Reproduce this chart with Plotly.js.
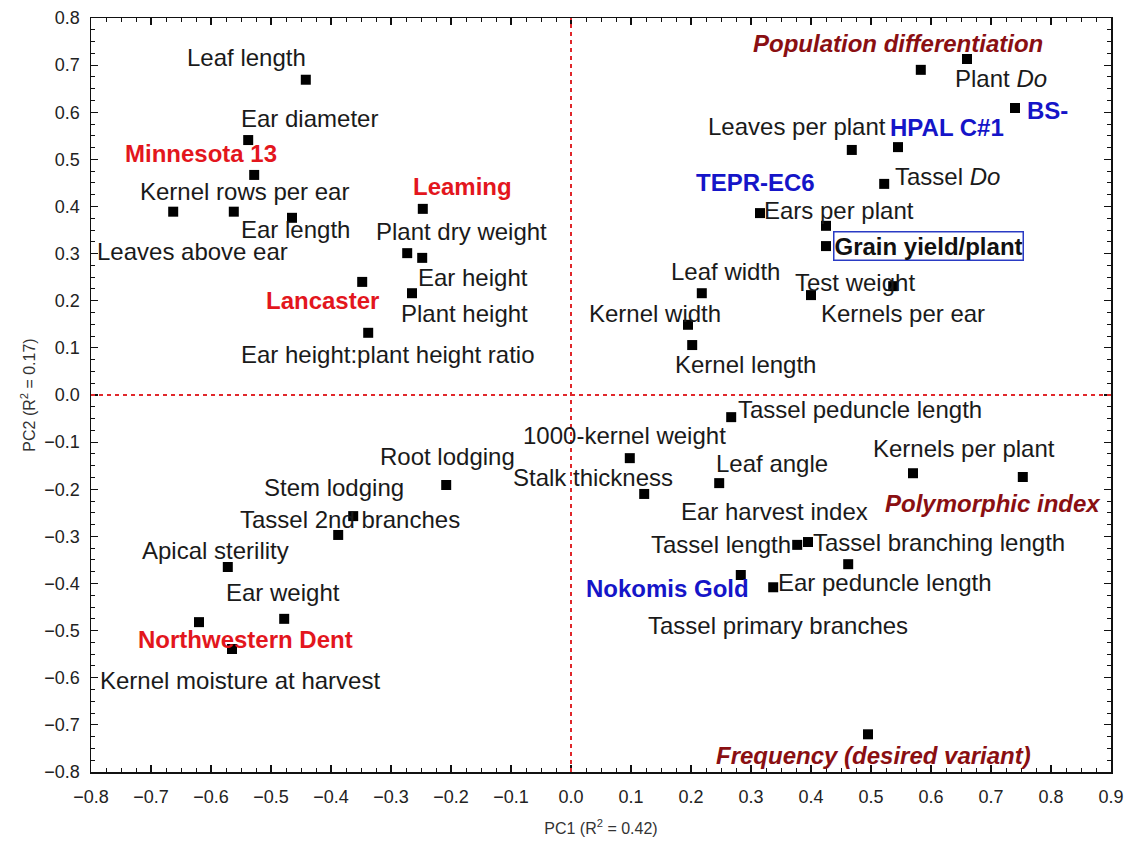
<!DOCTYPE html>
<html>
<head>
<meta charset="utf-8">
<script src="https://cdn.plot.ly/plotly-3.0.1.min.js"></script>
<style>html,body{margin:0;padding:0;background:#fff;}#chart{width:1133px;height:842px;}</style>
</head>
<body>
<div id="chart"></div>
<script>
// ---- data ----
const labels = [
  "Leaf length","Ear diameter","Minnesota 13","Kernel rows per ear","Leaves above ear","Ear length",
  "Leaming","Plant dry weight","Ear height","Lancaster","Plant height","Ear height:plant height ratio",
  "Population differentiation","Plant <i>Do</i>","BS-","Leaves per plant","HPAL C#1","Tassel <i>Do</i>",
  "Ears per plant","TEPR-EC6","Grain yield/plant","Test weight","Kernels per ear","Leaf width",
  "Kernel width","Kernel length",
  "Root lodging","Stem lodging","Tassel 2nd branches","Apical sterility","Ear weight","Northwestern Dent",
  "Kernel moisture at harvest",
  "Tassel peduncle length","1000-kernel weight","Stalk thickness","Leaf angle","Kernels per plant",
  "Polymorphic index","Tassel length","Tassel branching length","Nokomis Gold","Ear peduncle length",
  "Tassel primary branches","Frequency (desired variant)"
];
const pc1 = [
  -0.442,-0.538,-0.528,-0.562,-0.663,-0.465,
  -0.247,-0.273,-0.248,-0.348,-0.265,-0.338,
  0.660,0.583,0.740,0.468,0.545,0.522,
  0.315,0.425,0.425,0.537,0.400,0.218,
  0.195,0.202,
  -0.208,-0.363,-0.388,-0.572,-0.478,-0.620,
  -0.565,
  0.267,0.098,0.122,0.247,0.570,
  0.753,0.377,0.395,0.283,0.337,
  0.462,0.495
];
const pc2 = [
  0.669,0.541,0.467,0.389,0.389,0.376,
  0.395,0.301,0.291,0.240,0.216,0.132,
  0.713,0.690,0.609,0.520,0.526,0.448,
  0.386,0.359,0.316,0.231,0.212,0.216,
  0.149,0.106,
  -0.191,-0.257,-0.297,-0.365,-0.475,-0.482,
  -0.539,
  -0.047,-0.134,-0.210,-0.187,-0.166,
  -0.174,-0.318,-0.312,-0.382,-0.408,
  -0.359,-0.720
];
// label kind: t = trait, r = red population, b = blue population, s = statistic, g = boxed
const kinds = [
  "t","t","r","t","t","t",
  "r","t","t","r","t","t",
  "s","t","b","t","b","t",
  "t","b","g","t","t","t",
  "t","t",
  "t","t","t","t","t","r",
  "t",
  "t","t","t","t","t",
  "s","t","t","b","t",
  "t","s"
];
// extra label without its own marker, anchored to an existing point
const extraLabels = ["Ear harvest index"];
const extraAnchors = ["Leaf angle"];

// ---- label placement (pixel offsets from the point, y downwards) ----
const offsets = [
  [-59,-22],[61,-22],[-53,-21],[11,-20],[19,40],[3,12],
  [40,-22],[54,-22],[51,20],[-40,19],[52,20],[20,22],
  [-69,-16],[80,9],[32,2],[-55,-23],[49,-20],[63,-7],
  [79,-3],[-71,-43],[102,0],[-38,-4],[92,18],[24,-22],
  [-33,-11],[53,19],
  [1,-29],[-19,-29],[12,-15],[-12,-17],[-1,-26],[46,17],
  [8,31],
  [129,-8],[-5,-23],[-51,-16],[53,-20],[51,-25],
  [-30,26],[-76,0],[131,0],[-73,13],[112,-5],
  [-70,61],[5,21]
];
const extraOffsets = [[55,28]];

const FONT = "Arial, 'Liberation Sans', sans-serif";
const styles = {
  t: {color: "#1a1a1a", bold: false, italic: false},
  r: {color: "#e3161d", bold: true, italic: false},
  b: {color: "#1515c8", bold: true, italic: false},
  s: {color: "#8a0f12", bold: true, italic: true},
  g: {color: "#111111", bold: true, italic: false}
};

function makeAnn(text, x, y, kind, off) {
  const st = styles[kind];
  let t = text;
  if (st.bold) t = "<b>" + t + "</b>";
  if (st.italic) t = "<i>" + t + "</i>";
  const a = {
    x: x, y: y, xref: "x", yref: "y", text: t, showarrow: false,
    xanchor: "center", yanchor: "middle",
    xshift: off[0], yshift: -off[1],
    font: {family: FONT, size: 24, color: st.color}
  };
  if (kind === "g") {
    a.bordercolor = "#2a3bc4"; a.borderwidth = 1.5; a.borderpad = 0; a.bgcolor = "#ffffff";
  }
  return a;
}

const annotations = labels.map((l, i) => makeAnn(l, pc1[i], pc2[i], kinds[i], offsets[i]));
extraLabels.forEach((l, k) => {
  const i = labels.indexOf(extraAnchors[k]);
  annotations.push(makeAnn(l, pc1[i], pc2[i], "t", extraOffsets[k]));
});

const trace = {
  type: "scatter", mode: "markers", x: pc1, y: pc2,
  marker: {symbol: "square", size: 10, color: "#000000", line: {width: 0}},
  hoverinfo: "skip", cliponaxis: false
};

const axisCommon = {
  showgrid: false, zeroline: false, showline: true, linecolor: "#111", linewidth: 1.5,
  mirror: "allticks", ticks: "inside", ticklen: 7, tickwidth: 1.2, tickcolor: "#111",
  tickfont: {family: FONT, size: 18, color: "#222"},
  tickformat: ".1f",
  minor: {ticks: "inside", ticklen: 4, tickwidth: 1, tickcolor: "#111", dtick: 0.025, showgrid: false}
};

const layout = {
  width: 1133, height: 842,
  margin: {l: 91, r: 22, t: 18, b: 70},
  paper_bgcolor: "#fff", plot_bgcolor: "#fff",
  showlegend: false,
  xaxis: Object.assign({}, axisCommon, {
    range: [-0.8, 0.9], dtick: 0.1, tick0: -0.8,
    ticklabelstandoff: 8,
    title: {text: "PC1 (R<sup>2</sup> = 0.42)", font: {family: FONT, size: 16, color: "#333"}, standoff: 16}
  }),
  yaxis: Object.assign({}, axisCommon, {
    range: [-0.8, 0.8], dtick: 0.1, tick0: -0.8,
    ticklabelstandoff: 6,
    title: {text: "PC2 (R<sup>2</sup> = 0.17)", font: {family: FONT, size: 16, color: "#333"}, standoff: 5}
  }),
  shapes: [
    {type: "line", xref: "x", yref: "paper", x0: 0, x1: 0, y0: 0, y1: 1,
     line: {color: "#e0282c", width: 2, dash: "4px,4px"}},
    {type: "line", xref: "paper", yref: "y", x0: 0, x1: 1, y0: 0, y1: 0,
     line: {color: "#e0282c", width: 2, dash: "4px,4px"}}
  ],
  annotations: annotations
};

Plotly.newPlot("chart", [trace], layout, {displayModeBar: false, staticPlot: true});
</script>
</body>
</html>
